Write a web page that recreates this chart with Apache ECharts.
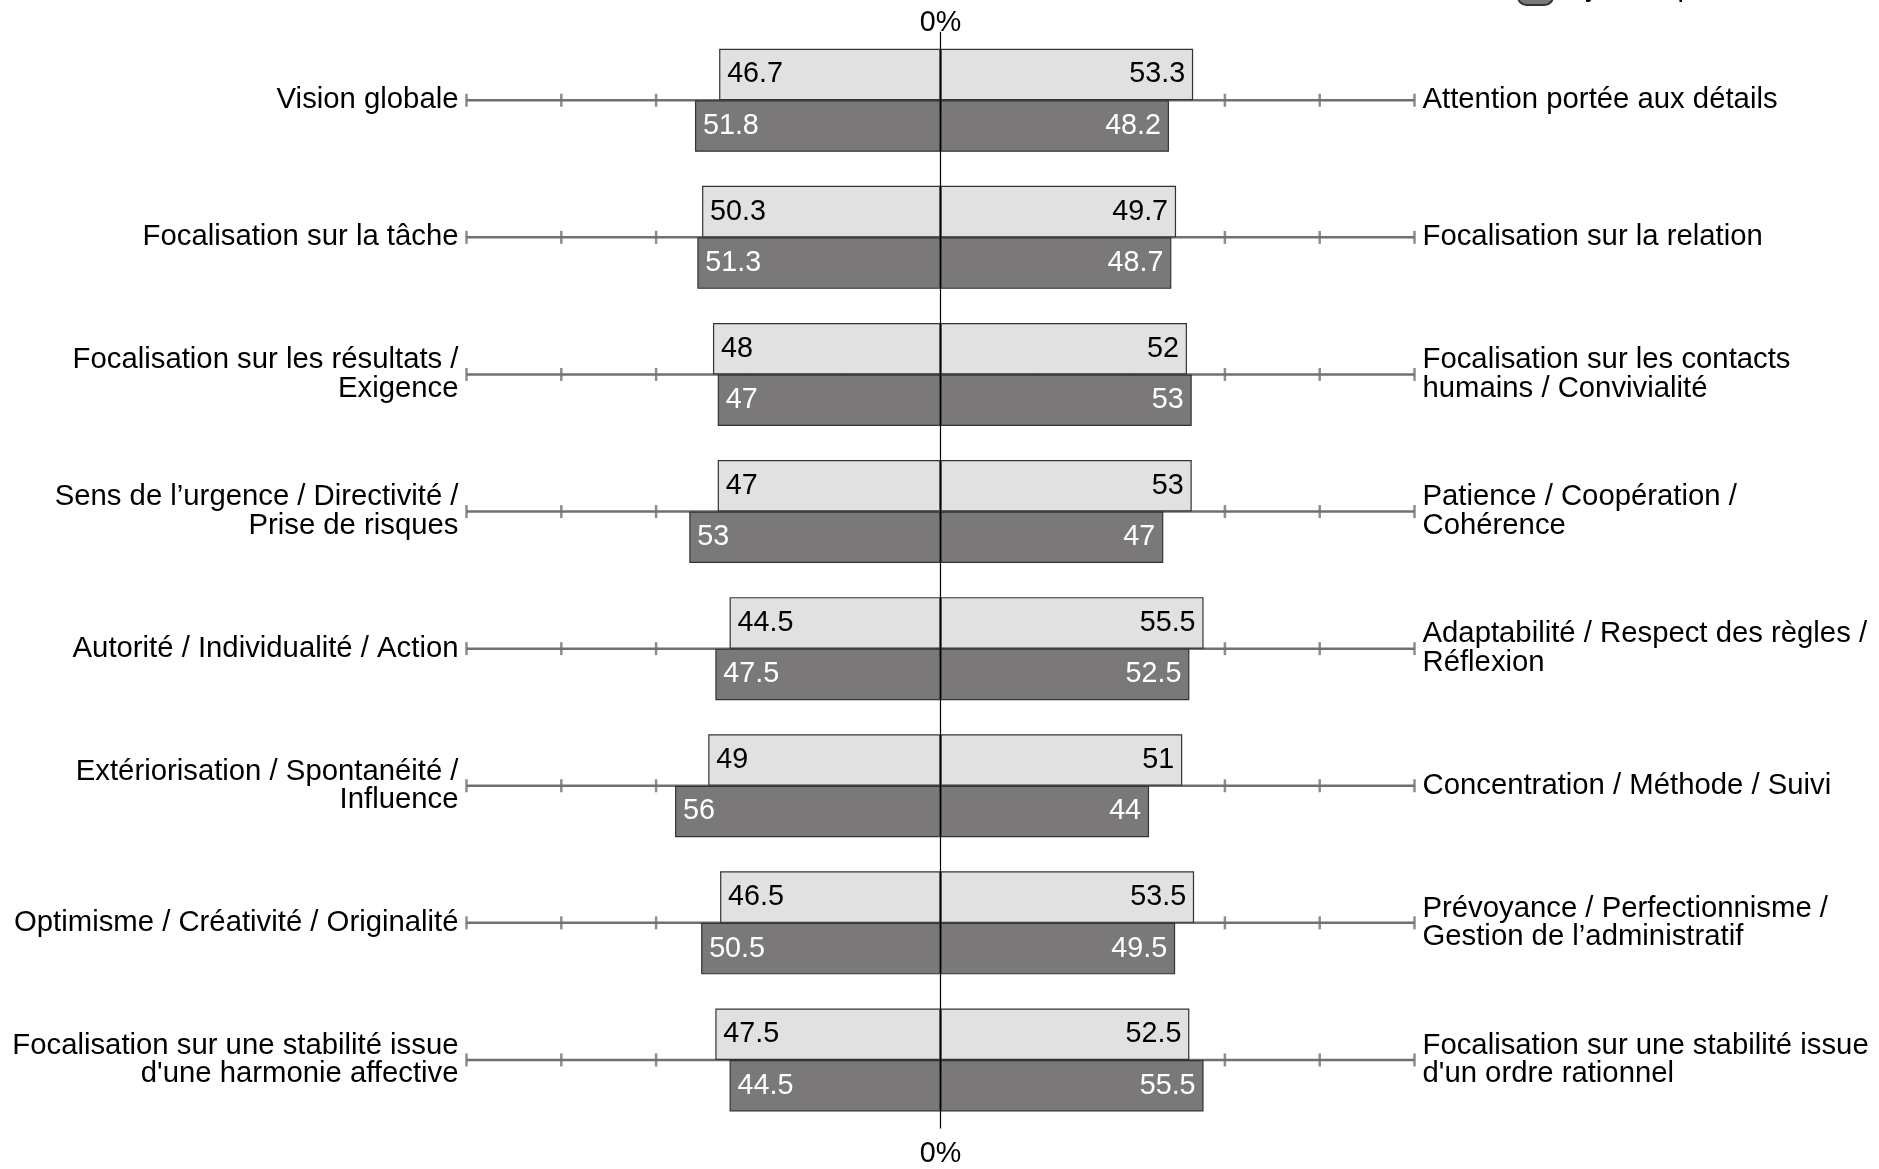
<!DOCTYPE html>
<html>
<head>
<meta charset="utf-8">
<script src="https://cdn.jsdelivr.net/npm/echarts@6/dist/echarts.min.js"></script>
<style>
html,body{margin:0;padding:0;background:#fff;}
#chart{width:1879px;height:1169px;}
</style>
</head>
<body>
<div id="chart"></div>
<script>
const leftCategories = [
  "Vision globale",
  "Focalisation sur la tâche",
  "Focalisation sur les résultats /\nExigence",
  "Sens de l’urgence / Directivité /\nPrise de risques",
  "Autorité / Individualité / Action",
  "Extériorisation / Spontanéité /\nInfluence",
  "Optimisme / Créativité / Originalité",
  "Focalisation sur une stabilité issue\nd'une harmonie affective"
];
const rightCategories = [
  "Attention portée aux détails",
  "Focalisation sur la relation",
  "Focalisation sur les contacts\nhumains / Convivialité",
  "Patience / Coopération /\nCohérence",
  "Adaptabilité / Respect des règles /\nRéflexion",
  "Concentration / Méthode / Suivi",
  "Prévoyance / Perfectionnisme /\nGestion de l’administratif",
  "Focalisation sur une stabilité issue\nd'un ordre rationnel"
];
const seriesNames = ["Style naturel", "Style adapté"];
const lightLeft  = [46.7, 50.3, 48, 47, 44.5, 49, 46.5, 47.5];
const lightRight = [53.3, 49.7, 52, 53, 55.5, 51, 53.5, 52.5];
const darkLeft   = [51.8, 51.3, 47, 53, 47.5, 56, 50.5, 44.5];
const darkRight  = [48.2, 48.7, 53, 47, 52.5, 44, 49.5, 55.5];
const tickValues = [-100, -80, -60, -40, -20, 0, 20, 40, 60, 80, 100];
const zeroLabel = "0%";

const FONT = "'Liberation Sans', Arial, sans-serif";
const lightColor = "#e1e1e1";
const darkColor = "#7a7878";
const borderColor = "#333333";
const axisGray = "#707070";

function barSeries(name, stack, values, negative, fill, labelColor) {
  return {
    type: "bar",
    name: name,
    stack: stack,
    xAxisIndex: 0,
    yAxisIndex: 0,
    barWidth: 51.5,
    barGap: "0%",
    data: values.map(v => negative ? -v : v),
    itemStyle: { color: fill, borderColor: borderColor, borderWidth: 1.2 },
    label: {
      show: true,
      position: negative ? "insideLeft" : "insideRight",
      distance: 8,
      color: labelColor,
      fontSize: 28.7,
      fontFamily: FONT,
      padding: [4, 0, 0, 0],
      formatter: p => String(Math.abs(p.value))
    },
    emphasis: { disabled: true },
    z: 3
  };
}

const series = [];
// per-category axis lines
leftCategories.forEach((c, i) => {
  series.push({
    type: "line",
    name: "axe" + i,
    xAxisIndex: 0,
    yAxisIndex: 0,
    data: [[tickValues[0], i], [tickValues[tickValues.length - 1], i]],
    symbol: "none",
    lineStyle: { color: axisGray, width: 2.5 },
    silent: true,
    z: 1
  });
});
// tick marks
const tickData = [];
leftCategories.forEach((c, i) => tickValues.forEach(v => tickData.push([v, i])));
series.push({
  type: "scatter",
  name: "ticks",
  xAxisIndex: 0,
  yAxisIndex: 0,
  data: tickData,
  symbol: "rect",
  symbolSize: [2.5, 13],
  itemStyle: { color: axisGray },
  silent: true,
  z: 1
});

const lightL = barSeries(seriesNames[0], "light", lightLeft, true, lightColor, "#000");
lightL.markLine = {
  silent: true,
  symbol: "none",
  label: { show: false },
  lineStyle: { color: "#000", width: 1.2, type: "solid" },
  data: [{ xAxis: 0 }],
  z: 10
};
series.push(lightL);
series.push(barSeries(seriesNames[0], "light", lightRight, false, lightColor, "#000"));
series.push(barSeries(seriesNames[1], "dark", darkLeft, true, darkColor, "#fff"));
series.push(barSeries(seriesNames[1], "dark", darkRight, false, darkColor, "#fff"));

const xCommon = {
  type: "value",
  min: -100,
  max: 100,
  interval: 20,
  axisLine: { show: false },
  axisTick: { show: false },
  splitLine: { show: false },
  axisLabel: {
    fontSize: 28.7,
    fontFamily: FONT,
    color: "#000",
    formatter: v => (v === 0 ? zeroLabel : "")
  }
};

const catLabel = { fontSize: 29.3, lineHeight: 28.5, fontFamily: FONT, color: "#000", margin: 8 };

const option = {
  animation: false,
  backgroundColor: "#fff",
  textStyle: { fontFamily: FONT },
  legend: {
    data: seriesNames,
    orient: "vertical",
    left: 1512,
    top: -81,
    itemWidth: 35,
    itemHeight: 34,
    itemGap: 10,
    textStyle: { fontSize: 28.7, fontFamily: FONT, color: "#000" },
    selectedMode: false
  },
  grid: { left: 466.5, right: 464.5, top: 31.7, bottom: 35, containLabel: false },
  xAxis: [
    Object.assign({}, xCommon, { position: "bottom", axisLabel: Object.assign({}, xCommon.axisLabel, { margin: 11.5 }) }),
    Object.assign({}, xCommon, { position: "top", axisLabel: Object.assign({}, xCommon.axisLabel, { margin: -5.5 }) })
  ],
  yAxis: [
    {
      type: "category",
      data: leftCategories,
      inverse: true,
      position: "left",
      axisLine: { show: false },
      axisTick: { show: false },
      axisLabel: Object.assign({}, catLabel, { align: "right" })
    },
    {
      type: "category",
      data: rightCategories,
      inverse: true,
      position: "right",
      axisLine: { show: false },
      axisTick: { show: false },
      axisLabel: Object.assign({}, catLabel, { align: "left" })
    }
  ],
  series: series
};

const chart = echarts.init(document.getElementById("chart"), null, { renderer: "canvas" });
chart.setOption(option);
</script>
</body>
</html>
